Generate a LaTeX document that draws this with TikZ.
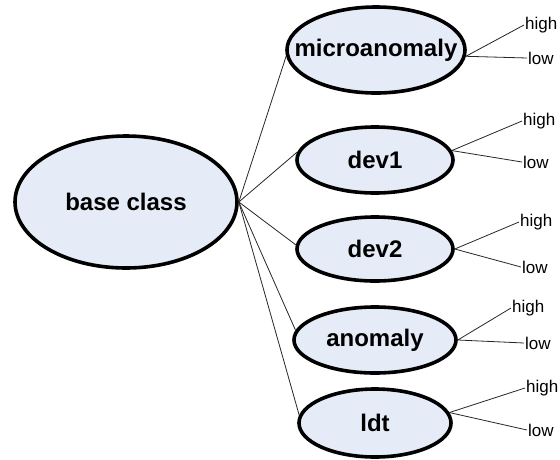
\documentclass[tikz,border=0pt]{standalone}
\usepackage{fontspec}
\setmainfont{Liberation Sans}
\usetikzlibrary{shapes.geometric}
\definecolor{clsfill}{RGB}{230,236,247}
\newcommand{\nowidth}[1]{\makebox[0pt]{#1}}

\begin{document}
\begin{tikzpicture}[x=1pt,y=-1pt,
    cls/.style={ellipse, draw=black, line width=3.6pt, fill=clsfill, inner sep=0pt,
      font=\bfseries\fontsize{24}{28}\selectfont},
    lvl/.style={anchor=west, inner sep=1pt, font=\fontsize{17}{20}\selectfont},
    link/.style={draw=black!85, line width=0.8pt}]
      \useasboundingbox (0,0) rectangle (560,459);
      \node[cls, minimum width=222pt, minimum height=132pt] (base) at (126,202) {\nowidth{base class}};
      \node[cls, minimum width=178pt, minimum height=86pt] (micro) at (376,50) {\nowidth{microanomaly}};
      \node[cls, minimum width=156pt, minimum height=66pt] (dev1) at (375,160) {\nowidth{dev1}};
      \node[cls, minimum width=156pt, minimum height=64pt] (dev2) at (375,249) {\nowidth{dev2}};
      \node[cls, minimum width=162pt, minimum height=66pt] (anom) at (375,340) {\nowidth{anomaly}};
      \node[cls, minimum width=152pt, minimum height=68pt] (ldt) at (375,423) {\nowidth{ldt}};
      \draw[link] (base.east) -- (micro.184);
      \draw[link] (base.east) -- (dev1.174);
      \draw[link] (base.east) -- (dev2.177);
      \draw[link] (base.east) -- (anom.173);
      \draw[link] (base.east) -- (ldt.174);
      \node[lvl] (microhi) at (524,25) {high};
      \node[lvl] (microlo) at (527,58) {low};
      \node[lvl] (dev1hi) at (522,121) {high};
      \node[lvl] (dev1lo) at (522,162) {low};
      \node[lvl] (dev2hi) at (519,222) {high};
      \node[lvl] (dev2lo) at (521,267) {low};
      \node[lvl] (anomhi) at (511,308) {high};
      \node[lvl] (anomlo) at (524,343) {low};
      \node[lvl] (ldthi) at (525,388) {high};
      \node[lvl] (ldtlo) at (527,430) {low};
      \draw[link] (micro.-4) -- (microhi.west);
      \draw[link] (micro.-4) -- (microlo.west);
      \draw[link] (dev1.7) -- (dev1hi.west);
      \draw[link] (dev1.7) -- (dev1lo.west);
      \draw[link] (dev2.east) -- (dev2hi.west);
      \draw[link] (dev2.east) -- (dev2lo.west);
      \draw[link] (anom.east) -- (anomhi.west);
      \draw[link] (anom.east) -- (anomlo.west);
      \draw[link] (ldt.8) -- (ldthi.west);
      \draw[link] (ldt.8) -- (ldtlo.west);
    \end{tikzpicture}
\end{document}
